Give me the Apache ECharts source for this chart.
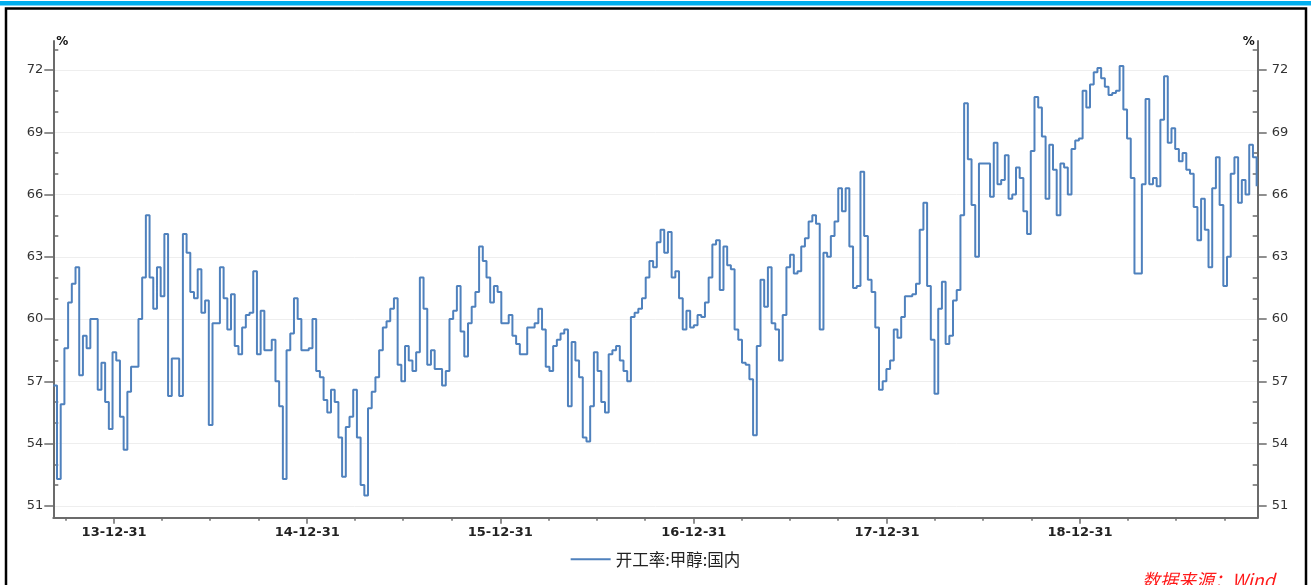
<!DOCTYPE html>
<html>
<head>
<meta charset="utf-8">
<script src="https://cdn.jsdelivr.net/npm/echarts@6/dist/echarts.min.js"></script>
<style>html,body{margin:0;padding:0;background:#fff}#c{width:1311px;height:585px}</style>
</head>
<body>
<div id="c"></div>
<script>
// ---- data ----
const seriesName = '开工率:甲醇:国内';
const unitName = '%';
const sourceText = '数据来源：Wind';
const startDate = '2013-09-07';   // first weekly observation
const stepDays = 7;               // weekly data
const axisStart = '2013-09-07';
const axisEnd = '2019-12-02';
const values = [
56.8,52.3,55.9,58.6,60.8,61.7,62.5,57.3,59.2,58.6,60.0,60.0,56.6,57.9,56.0,54.7,58.4,58.0,55.3,53.7,
56.5,57.7,57.7,60.0,62.0,65.0,62.0,60.5,62.5,61.1,64.1,56.3,58.1,58.1,56.3,64.1,63.2,61.3,61.0,62.4,
60.3,60.9,54.9,59.8,59.8,62.5,61.0,59.5,61.2,58.7,58.3,59.6,60.2,60.3,62.3,58.3,60.4,58.5,58.5,59.0,
57.0,55.8,52.3,58.5,59.3,61.0,60.0,58.5,58.5,58.6,60.0,57.5,57.2,56.1,55.5,56.6,56.0,54.3,52.4,54.8,
55.3,56.6,54.3,52.0,51.5,55.7,56.5,57.2,58.5,59.6,59.9,60.5,61.0,57.8,57.0,58.7,58.0,57.5,58.4,62.0,
60.5,57.8,58.5,57.6,57.6,56.8,57.5,60.0,60.4,61.6,59.4,58.2,59.8,60.6,61.3,63.5,62.8,62.0,60.8,61.6,
61.3,59.8,59.8,60.2,59.2,58.8,58.3,58.3,59.6,59.6,59.8,60.5,59.5,57.7,57.5,58.7,59.0,59.3,59.5,55.8,
58.9,58.0,57.2,54.3,54.1,55.8,58.4,57.5,56.0,55.5,58.3,58.5,58.7,58.0,57.5,57.0,60.1,60.3,60.5,61.0,
62.0,62.8,62.5,63.7,64.3,63.2,64.2,62.0,62.3,61.0,59.5,60.4,59.6,59.7,60.2,60.1,60.8,62.0,63.6,63.8,
61.4,63.5,62.6,62.4,59.5,59.0,57.9,57.8,57.1,54.4,58.7,61.9,60.6,62.5,59.8,59.5,58.0,60.2,62.5,63.1,
62.2,62.3,63.5,63.9,64.7,65.0,64.6,59.5,63.2,63.0,64.0,64.7,66.3,65.2,66.3,63.5,61.5,61.6,67.1,64.0,
61.9,61.3,59.6,56.6,57.0,57.6,58.0,59.5,59.1,60.1,61.1,61.1,61.2,61.7,64.3,65.6,61.6,59.0,56.4,60.5,
61.8,58.8,59.2,60.9,61.4,65.0,70.4,67.7,65.5,63.0,67.5,67.5,67.5,65.9,68.5,66.5,66.7,67.9,65.8,66.0,
67.3,66.8,65.2,64.1,68.1,70.7,70.2,68.8,65.8,68.4,67.2,65.0,67.5,67.3,66.0,68.2,68.6,68.7,71.0,70.2,
71.3,71.9,72.1,71.6,71.2,70.8,70.9,71.0,72.2,70.1,68.7,66.8,62.2,62.2,66.5,70.6,66.5,66.8,66.4,69.6,
71.7,68.5,69.2,68.2,67.6,68.0,67.2,67.0,65.4,63.8,65.8,64.3,62.5,66.3,67.8,65.5,61.6,63.0,67.0,67.8,
65.6,66.7,66.0,68.4,67.8,66.4
];
const yMin = 50.43;
const yMax = 73.4;
const yMajorTicks = [51,54,57,60,63,66,69,72];
const yMinorTicks = [52,53,55,56,58,59,61,62,64,65,67,68,70,71,73];
const xLabelDates = ['2013-12-31','2014-12-31','2015-12-31','2016-12-31','2017-12-31','2018-12-31'];
const xMinorDates = ['2013-09-30','2014-03-31','2014-06-30','2014-09-30','2015-03-31','2015-06-30','2015-09-30',
  '2016-03-31','2016-06-30','2016-09-30','2017-03-31','2017-06-30','2017-09-30','2018-03-31','2018-06-30',
  '2018-09-30','2019-03-31','2019-06-30','2019-09-30'];

// ---- helpers ----
function ts(s){const p=s.split('-').map(Number);return Date.UTC(p[0],p[1]-1,p[2]);}
function pad(n){return (n<10?'0':'')+n;}
function fmt(v){const d=new Date(v);return String(d.getUTCFullYear()).slice(2)+'-'+pad(d.getUTCMonth()+1)+'-'+pad(d.getUTCDate());}
const t0 = ts(startDate);
const DAY = 86400000;
const seriesData = values.map((v,i)=>[t0 + i*stepDays*DAY, v]);
const xMin = ts(axisStart), xMax = ts(axisEnd);
const xLabelTs = xLabelDates.map(ts);
const xMinorTs = xMinorDates.map(ts);

const axisColor = '#6b6b6b';
const labelFont = 'DejaVu Sans';

function yMain(pos){
  return {
    type:'value', position:pos, min:yMin, max:yMax,
    name:unitName, nameLocation:'end', nameGap:-1,
    nameTextStyle:{color:'#111', fontSize:12, fontWeight:'bold', fontFamily:labelFont,
      align: pos==='left'?'left':'right', verticalAlign:'middle',
      padding: pos==='left'?[0,0,0,3]:[0,3,0,0]},
    axisLine:{show:true, lineStyle:{color:axisColor, width:2}},
    axisTick:{show:true, inside:false, length:9, customValues:yMajorTicks, lineStyle:{color:axisColor, width:1.5}},
    axisLabel:{show:true, customValues:yMajorTicks, margin: pos==='left'?10:14, color:'#333', fontSize:13, fontFamily:labelFont},
    splitLine:{show: pos==='left', lineStyle:{color:'#eeeeee', width:1}}
  };
}
function yMinor(pos){
  return {
    type:'value', position:pos, min:yMin, max:yMax,
    axisLine:{show:false},
    axisTick:{show:true, inside:true, length:5, customValues:yMinorTicks, lineStyle:{color:axisColor, width:1.5}},
    axisLabel:{show:false}, splitLine:{show:false}
  };
}

const chart = echarts.init(document.getElementById('c'));
chart.setOption({
  animation:false,
  backgroundColor:'#fff',
  grid:{left:53.3, right:53.3, top:41, bottom:67.3, containLabel:false, outerBoundsMode:'none'},
  legend:{
    data:[{name:seriesName, icon:'rect'}], left:'center', top:546,
    itemWidth:40, itemHeight:2, itemGap:10,
    textStyle:{fontSize:16.5, color:'#222', fontFamily:'Noto Sans CJK SC'}
  },
  xAxis:[
    {
      type:'value', position:'bottom', min:xMin, max:xMax,
      axisLine:{onZero:false, lineStyle:{color:axisColor, width:2}},
      axisTick:{show:true, length:6, customValues:xLabelTs, lineStyle:{color:axisColor, width:1.5}},
      axisLabel:{customValues:xLabelTs, formatter:fmt, margin:8, color:'#222', fontSize:13, fontWeight:'bold', fontFamily:labelFont},
      splitLine:{show:false}
    },
    {
      type:'value', position:'bottom', min:xMin, max:xMax,
      axisLine:{show:false, onZero:false},
      axisTick:{show:true, length:3, customValues:xMinorTs, lineStyle:{color:axisColor, width:1.5}},
      axisLabel:{show:false}, splitLine:{show:false}
    }
  ],
  yAxis:[yMain('left'), yMinor('left'), yMain('right'), yMinor('right')],
  series:[{
    name:seriesName, type:'line', xAxisIndex:0, yAxisIndex:0,
    data:seriesData, step:'end', showSymbol:false, symbol:'none',
    lineStyle:{color:'#4F81BD', width:2}, itemStyle:{color:'#4F81BD'}
  }],
  graphic:[
    {type:'rect', silent:true, shape:{x:0, y:1, width:1311, height:4.5}, style:{fill:'#00AEEF'}},
    {type:'rect', silent:true, shape:{x:6, y:8.6, width:1300, height:600}, style:{fill:'none', stroke:'#000', lineWidth:2.5}},
    {type:'text', silent:true, x:1142, y:571, style:{text:sourceText, fill:'#ff1a1a', font:'italic 18px "Noto Sans CJK SC"', verticalAlign:'top'}}
  ]
});
</script>
</body>
</html>
